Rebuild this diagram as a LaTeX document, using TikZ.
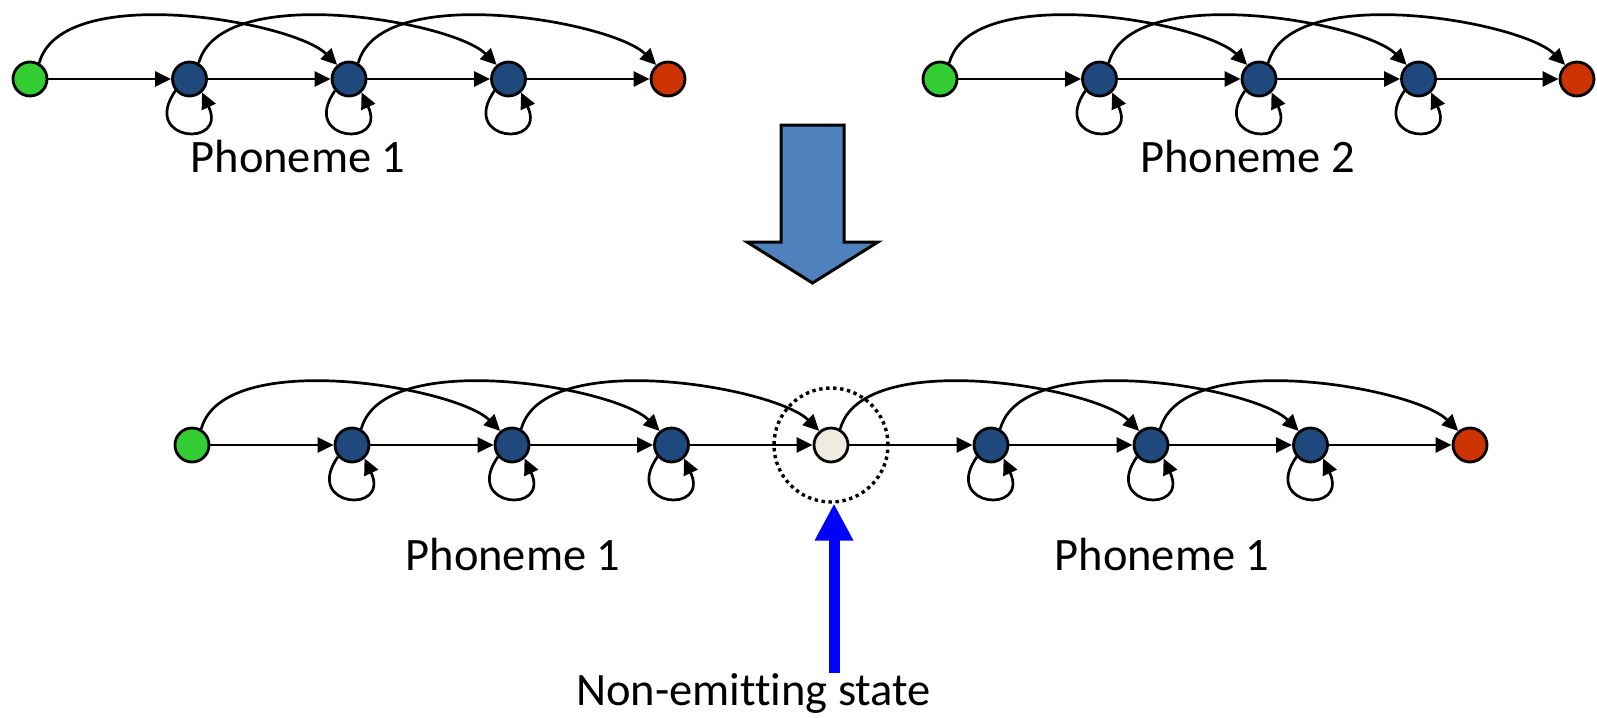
\documentclass[tikz,border=0pt]{standalone}
\usepackage{fontspec}
\setmainfont{Carlito}[Ligatures={NoCommon}]
\usetikzlibrary{arrows.meta}
\definecolor{stgreen}{RGB}{51,204,51}
\definecolor{stblue}{RGB}{31,73,125}
\definecolor{stred}{RGB}{204,51,0}
\definecolor{stnon}{RGB}{238,236,225}
\definecolor{bigarrow}{RGB}{79,129,189}
\tikzset{
  st/.style={circle, draw=black, line width=2.8pt, minimum size=34pt, inner sep=0pt},
  sgreen/.style={st, fill=stgreen},
  sblue/.style={st, fill=stblue},
  sred/.style={st, fill=stred},
  snon/.style={st, fill=stnon},
  arr/.style={line width=2.7pt, -{Triangle[length=16pt,width=15pt]}},
  lbl/.style={anchor=base, inner sep=0pt, font=\fontsize{46.5pt}{55pt}\selectfont},
}
\newcommand{\skiparc}[2]{\draw[arr] (#1.60) .. controls +(75:85pt) and +(135:62pt) .. (#2.130);}
\newcommand{\selfloop}[1]{\draw[arr] (#1.-140) .. controls +(-125:62pt) and +(-65:62pt) .. (#1.-47);}
\begin{document}
\begin{tikzpicture}[x=1pt,y=-1pt]
\useasboundingbox (0,0) rectangle (1597,717);
% ---------- top left chain ----------
\node[sgreen] (L0) at (30,79) {};
\node[sblue] (L1) at (189.5,79) {};
\node[sblue] (L2) at (349,79) {};
\node[sblue] (L3) at (508.5,79) {};
\node[sred] (L4) at (668,79) {};
\draw[arr] (L0) -- (L1);
\draw[arr] (L1) -- (L2);
\draw[arr] (L2) -- (L3);
\draw[arr] (L3) -- (L4);
\skiparc{L0}{L2}
\skiparc{L1}{L3}
\skiparc{L2}{L4}
\selfloop{L1}
\selfloop{L2}
\selfloop{L3}
\node[lbl] (p1) at (298,172) {Phoneme 1};
% ---------- top right chain ----------
\node[sgreen] (R0) at (940,79) {};
\node[sblue] (R1) at (1099.5,79) {};
\node[sblue] (R2) at (1259,79) {};
\node[sblue] (R3) at (1418.5,79) {};
\node[sred] (R4) at (1577,79) {};
\draw[arr] (R0) -- (R1);
\draw[arr] (R1) -- (R2);
\draw[arr] (R2) -- (R3);
\draw[arr] (R3) -- (R4);
\skiparc{R0}{R2}
\skiparc{R1}{R3}
\skiparc{R2}{R4}
\selfloop{R1}
\selfloop{R2}
\selfloop{R3}
\node[lbl] (p2) at (1247.5,172) {Phoneme 2};
% ---------- big block arrow ----------
\filldraw[fill=bigarrow, draw=black, line width=3pt, line join=miter]
  (781,125) -- (844,125) -- (844,242) -- (878,242) -- (812.5,283) -- (747,242) -- (781,242) -- cycle;
% ---------- bottom chain ----------
\node[sgreen] (B0) at (192,445) {};
\node[sblue] (B1) at (352,445) {};
\node[sblue] (B2) at (512,445) {};
\node[sblue] (B3) at (671.5,445) {};
\node[snon] (B4) at (831,445) {};
\node[sblue] (B5) at (991,445) {};
\node[sblue] (B6) at (1151,445) {};
\node[sblue] (B7) at (1310.5,445) {};
\node[sred] (B8) at (1470,445) {};
\draw[arr] (B0) -- (B1);
\draw[arr] (B1) -- (B2);
\draw[arr] (B2) -- (B3);
\draw[arr] (B3) -- (B4);
\draw[arr] (B4) -- (B5);
\draw[arr] (B5) -- (B6);
\draw[arr] (B6) -- (B7);
\draw[arr] (B7) -- (B8);
\skiparc{B0}{B2}
\skiparc{B1}{B3}
\skiparc{B2}{B4}
\skiparc{B4}{B6}
\skiparc{B5}{B7}
\skiparc{B6}{B8}
\selfloop{B1}
\selfloop{B2}
\selfloop{B3}
\selfloop{B5}
\selfloop{B6}
\selfloop{B7}
\node[circle, draw=black, line width=3.4pt, dash pattern=on 3.4pt off 3.6pt, minimum size=114pt, inner sep=0pt] (dc) at (831,445) {};
\node[lbl] (p3) at (513,570) {Phoneme 1};
\node[lbl] (p4) at (1162,570) {Phoneme 1};
% ---------- annotation ----------
\node[lbl] (nes) at (753.5,705) {Non-emitting state};
\coordinate (arrfoot) at (834,673);
\draw[line width=11pt, blue, -{Triangle[length=37pt,width=36pt]}] (arrfoot) -- (834,503.5);
\end{tikzpicture}
\end{document}
